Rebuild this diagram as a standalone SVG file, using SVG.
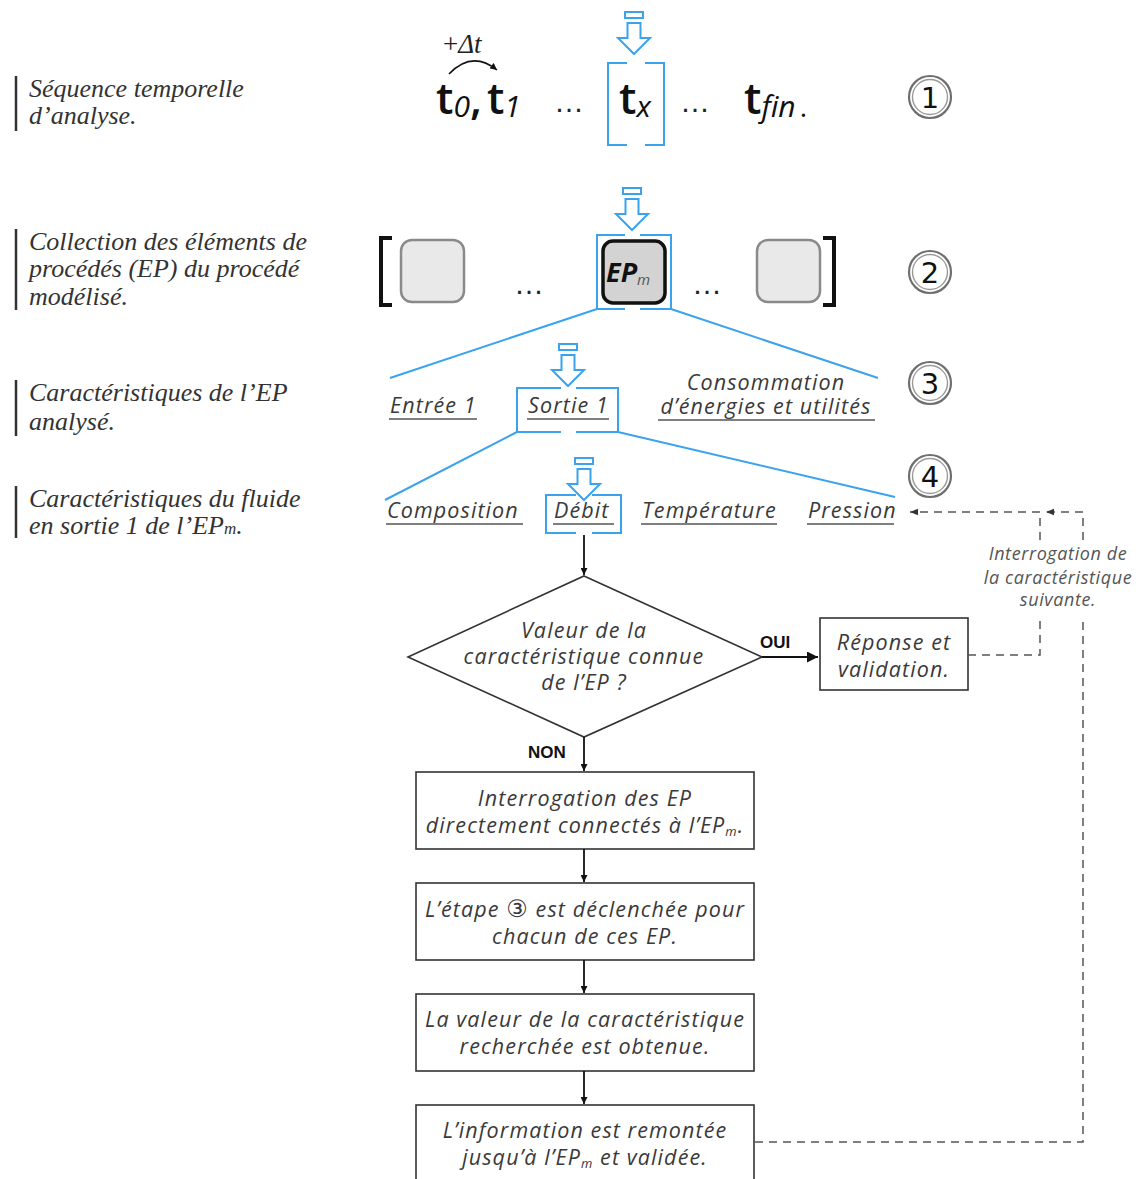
<svg xmlns="http://www.w3.org/2000/svg" width="1139" height="1179" viewBox="0 0 1139 1179">
  <style>
    .lbl { font-family: "Liberation Serif", "Times New Roman", serif; font-style: italic; font-size: 26px; fill: #333; }
    .bar { stroke: #333; stroke-width: 2.5; }
    .txt { font-family: "Open Sans", Lato, sans-serif; font-style: italic; font-size: 21.5px; letter-spacing: 1.1px; fill: #3a3a3a; }
    .mid { text-anchor: middle; }
    .ul { stroke: #555; stroke-width: 1.6; }
    .blue { fill: none; stroke: #3ba3ee; stroke-width: 2; }
    .box { fill: #fff; stroke: #333; stroke-width: 1.6; }
    .flow { fill: none; stroke: #111; stroke-width: 1.8; marker-end: url(#arr); }
    .dash { fill: none; stroke: #555; stroke-width: 1.5; stroke-dasharray: 8 6; }
    .big { font-family: "Open Sans", Lato, sans-serif; font-size: 44px; font-weight: 600; fill: #111; }
    .sub { font-family: "Open Sans", Lato, sans-serif; font-style: italic; font-size: 30px; fill: #111; }
    .dots { font-family: "Liberation Sans", sans-serif; font-size: 30px; fill: #222; }
    .num { font-family: "DejaVu Sans", sans-serif; font-size: 29px; fill: #111; text-anchor: middle; }
    .ring1 { fill: #fff; stroke: #6f6f6f; stroke-width: 2.2; }
    .ring2 { fill: none; stroke: #9a9a9a; stroke-width: 1.4; }
    .bold { font-family: "Liberation Sans", Arial, sans-serif; font-weight: bold; font-size: 17px; fill: #111; }
    .note { font-family: "Open Sans", Lato, sans-serif; font-style: italic; font-size: 18px; letter-spacing: 0.6px; fill: #555; text-anchor: middle; }
  </style>
  <defs>
    <marker id="arr" viewBox="0 0 10 10" refX="10" refY="5" markerWidth="7" markerHeight="7" markerUnits="userSpaceOnUse" orient="auto">
      <path d="M0,0 L10,5 L0,10 z" fill="#111"/>
    </marker>
    <marker id="arrBig" viewBox="0 0 10 10" refX="10" refY="5" markerWidth="11" markerHeight="11" markerUnits="userSpaceOnUse" orient="auto">
      <path d="M0,0 L10,5 L0,10 z" fill="#111"/>
    </marker>
    <marker id="arrSmall" viewBox="0 0 10 10" refX="10" refY="5" markerWidth="8" markerHeight="8" markerUnits="userSpaceOnUse" orient="auto">
      <path d="M0,1 L10,5 L0,9 z" fill="#333"/>
    </marker>
    <!-- hollow blue pointer: small bar above a down arrow -->
    <g id="ptr">
      <rect x="-9" y="0" width="18" height="6" fill="none" stroke="#3ba3ee" stroke-width="2"/>
      <path d="M-6.5,11 L6.5,11 L6.5,26 L16,26 L0,42 L-16,26 L-6.5,26 z" fill="none" stroke="#3ba3ee" stroke-width="2" stroke-linejoin="miter"/>
    </g>
    <g id="circ">
      <circle r="21" class="ring1"/>
      <circle r="17.5" class="ring2"/>
    </g>
  </defs>

  <!-- level captions on the left -->
  <g id="captions">
    <line class="bar" x1="16" y1="76" x2="16" y2="131"/>
    <text class="lbl" x="29" y="97">Séquence temporelle</text>
    <text class="lbl" x="29" y="124">d’analyse.</text>

    <line class="bar" x1="16" y1="229" x2="16" y2="310"/>
    <text class="lbl" x="29" y="250">Collection des éléments de</text>
    <text class="lbl" x="29" y="277">procédés (EP) du procédé</text>
    <text class="lbl" x="29" y="305">modélisé.</text>

    <line class="bar" x1="16" y1="380" x2="16" y2="436"/>
    <text class="lbl" x="29" y="401">Caractéristiques de l’EP</text>
    <text class="lbl" x="29" y="430">analysé.</text>

    <line class="bar" x1="16" y1="486" x2="16" y2="538"/>
    <text class="lbl" x="29" y="507">Caractéristiques du fluide</text>
    <text class="lbl" x="29" y="534">en sortie 1 de l’EP<tspan font-size="17">m</tspan>.</text>
  </g>

  <!-- step markers -->
  <g id="steps">
    <use href="#circ" x="930" y="97"/>
    <text class="num" x="930" y="108">1</text>
    <use href="#circ" x="930" y="272"/>
    <text class="num" x="930" y="283">2</text>
    <use href="#circ" x="930" y="383"/>
    <text class="num" x="930" y="394">3</text>
    <use href="#circ" x="930" y="476"/>
    <text class="num" x="930" y="487">4</text>
  </g>

  <!-- time sequence -->
  <g id="time">
    <text x="443" y="53" font-family="Liberation Serif, serif" font-size="27" fill="#222">+<tspan font-style="italic">Δt</tspan></text>
    <path d="M449,74 Q472,50 497,70" fill="none" stroke="#111" stroke-width="1.6" marker-end="url(#arr)"/>
    <text x="436" y="114"><tspan class="big">t</tspan><tspan class="sub" dy="3">0</tspan><tspan class="big" font-weight="normal" font-size="36" dy="-3">,</tspan><tspan class="big" dx="5">t</tspan><tspan class="sub" dy="3">1</tspan></text>
    <text class="dots" x="554" y="112">…</text>
    <text x="619" y="114"><tspan class="big">t</tspan><tspan class="sub" dy="3">x</tspan></text>
    <text class="dots" x="680" y="112">…</text>
    <text x="744" y="114"><tspan class="big">t</tspan><tspan class="sub" dy="3">fin</tspan><tspan font-family="Open Sans, sans-serif" font-size="28" fill="#111" dx="4">.</tspan></text>
  </g>
  <g id="tx-focus">
    <use href="#ptr" x="634" y="12"/>
    <path class="blue" d="M627,63 H608 V145 H627 M645,63 H664 V145 H645"/>
  </g>

  <!-- process elements -->
  <g id="elements">
    <path d="M392,238 H381 V305 H392" fill="none" stroke="#111" stroke-width="4"/>
    <path d="M823,238 H834 V305 H823" fill="none" stroke="#111" stroke-width="4"/>
    <rect x="401" y="240" width="63" height="62" rx="11" fill="#e9e9e9" stroke="#8a8a8a" stroke-width="2.5"/>
    <text class="dots" x="514" y="294">…</text>
    <text class="dots" x="692" y="294">…</text>
    <rect x="757" y="240" width="63" height="62" rx="11" fill="#e9e9e9" stroke="#8a8a8a" stroke-width="2.5"/>
  </g>
  <g id="epm">
    <rect x="603" y="241" width="62" height="62" rx="10" fill="#d3d3d3" stroke="#111" stroke-width="3.5"/>
    <text x="606" y="282" font-family="Open Sans, sans-serif" font-weight="bold" font-style="italic" font-size="27" fill="#111">EP<tspan font-size="15" font-weight="normal" fill="#555" dy="3">m</tspan></text>
    <use href="#ptr" x="632" y="188"/>
    <path class="blue" d="M625,235 H597 V309 H625 M640,235 H671 V309 H640"/>
  </g>

  <!-- characteristics of the analysed element -->
  <g id="char-entree">
    <text class="txt" x="390" y="413">Entrée 1</text>
    <line class="ul" x1="389" y1="419" x2="477" y2="419"/>
  </g>
  <g id="char-sortie">
    <use href="#ptr" x="568" y="344"/>
    <path class="blue" d="M561,388 H517 V432 H561 M576,388 H618 V432 H576"/>
    <text class="txt" x="528" y="413">Sortie 1</text>
    <line class="ul" x1="527" y1="419" x2="609" y2="419"/>
  </g>
  <g id="char-conso">
    <text class="txt mid" x="766" y="390">Consommation</text>
    <text class="txt mid" x="766" y="414">d’énergies et utilités</text>
    <line class="ul" x1="658" y1="420" x2="875" y2="420"/>
  </g>

  <!-- fluid characteristics -->
  <g id="fl-composition">
    <text class="txt" x="387" y="518">Composition</text>
    <line class="ul" x1="386" y1="524" x2="523" y2="524"/>
  </g>
  <g id="fl-debit">
    <use href="#ptr" x="584" y="458"/>
    <path class="blue" d="M576,495 H546 V533 H576 M592,495 H621 V533 H592"/>
    <text class="txt" x="554" y="518">Débit</text>
    <line class="ul" x1="553" y1="524" x2="614" y2="524"/>
  </g>
  <g id="fl-temperature">
    <text class="txt" x="642" y="518">Température</text>
    <line class="ul" x1="641" y1="524" x2="777" y2="524"/>
  </g>
  <g id="fl-pression">
    <text class="txt" x="808" y="518">Pression</text>
    <line class="ul" x1="807" y1="524" x2="894" y2="524"/>
  </g>

  <!-- decision and processing steps -->
  <g id="decision">
    <path d="M584,576 L762,657 L584,737 L408,657 z" fill="#fff" stroke="#333" stroke-width="1.6"/>
    <text class="txt mid" x="584" y="638">Valeur de la</text>
    <text class="txt mid" x="584" y="664">caractéristique connue</text>
    <text class="txt mid" x="584" y="690">de l’EP ?</text>
  </g>
  <g id="answer">
    <rect class="box" x="820" y="618" width="148" height="72"/>
    <text class="txt mid" x="894" y="650">Réponse et</text>
    <text class="txt mid" x="894" y="677">validation.</text>
  </g>
  <g id="step-query">
    <rect class="box" x="416" y="772" width="338" height="77"/>
    <text class="txt mid" x="585" y="806">Interrogation des EP</text>
    <text class="txt mid" x="585" y="833">directement connectés à l’EP<tspan font-size="13" dy="3">m</tspan><tspan dy="-3">.</tspan></text>
  </g>
  <g id="step-trigger">
    <rect class="box" x="416" y="883" width="338" height="77"/>
    <text class="txt mid" x="585" y="917">L’étape <tspan font-family="DejaVu Sans, sans-serif" font-style="normal" font-size="24">③</tspan> est déclenchée pour</text>
    <text class="txt mid" x="585" y="944">chacun de ces EP.</text>
  </g>
  <g id="step-value">
    <rect class="box" x="416" y="994" width="338" height="77"/>
    <text class="txt mid" x="585" y="1027">La valeur de la caractéristique</text>
    <text class="txt mid" x="585" y="1054">recherchée est obtenue.</text>
  </g>
  <g id="step-return">
    <rect class="box" x="416" y="1105" width="338" height="80"/>
    <text class="txt mid" x="585" y="1138">L’information est remontée</text>
    <text class="txt mid" x="585" y="1165">jusqu’à l’EP<tspan font-size="13" dy="3">m</tspan><tspan dy="-3"> et validée.</tspan></text>
  </g>

  <g id="note">
    <text class="note" x="1058" y="560">Interrogation de</text>
    <text class="note" x="1058" y="584">la caractéristique</text>
    <text class="note" x="1058" y="606">suivante.</text>
  </g>

  <!-- connectors -->
  <g id="connectors">
    <!-- blue branch lines -->
    <line class="blue" x1="597" y1="309" x2="390" y2="378"/>
    <line class="blue" x1="671" y1="309" x2="878" y2="378"/>
    <line class="blue" x1="517" y1="432" x2="385" y2="500"/>
    <line class="blue" x1="618" y1="432" x2="895" y2="497"/>
    <!-- main flow -->
    <line class="flow" x1="584" y1="535" x2="584" y2="575"/>
    <line class="flow" x1="762" y1="657" x2="818" y2="657" style="marker-end:url(#arrBig);stroke-width:2"/>
    <text class="bold" x="760" y="648">OUI</text>
    <line class="flow" x1="584" y1="737" x2="584" y2="771"/>
    <text class="bold" x="528" y="758">NON</text>
    <line class="flow" x1="584" y1="849" x2="584" y2="882"/>
    <line class="flow" x1="584" y1="960" x2="584" y2="993"/>
    <line class="flow" x1="584" y1="1071" x2="584" y2="1104"/>
    <!-- dashed feedback loops -->
    <path class="dash" d="M968,655 H1040 V618"/>
    <path class="dash" d="M1040,540 V512 H910" style="marker-end:url(#arrSmall)"/>
    <path class="dash" d="M755,1142 H1083 V618"/>
    <path class="dash" d="M1083,540 V512 H1046" style="marker-end:url(#arrSmall)"/>
  </g>
</svg>
